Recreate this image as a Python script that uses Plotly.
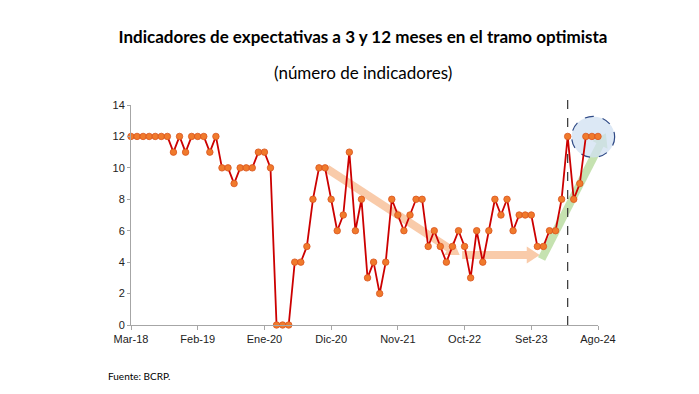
import math
import plotly.graph_objects as go

# ---- data ----
values = [12, 12, 12, 12, 12, 12, 12, 11, 12, 11, 12, 12, 12, 11, 12, 10, 10, 9, 10, 10,
          10, 11, 11, 10, 0, 0, 0, 4, 4, 5, 8, 10, 10, 8, 6, 7, 11, 6, 8, 3,
          4, 2, 4, 8, 7, 6, 7, 8, 8, 5, 6, 5, 4, 5, 6, 5, 3, 6, 4, 6,
          8, 7, 8, 6, 7, 7, 7, 5, 5, 6, 6, 8, 12, 8, 9, 12, 12, 12]
month_index = list(range(len(values)))
tick_positions = [0, 11, 22, 33, 44, 55, 66, 77]
tick_labels = ["Mar-18", "Feb-19", "Ene-20", "Dic-20", "Nov-21", "Oct-22", "Set-23", "Ago-24"]

XMAX = 77
YMAX = 14
PW, PH = 467, 220  # plot area size in px
OFF = 8            # page body margin
FW, FH = 699 - OFF, 394 - OFF

fig = go.Figure()
fig.add_trace(go.Scatter(
    x=month_index, y=values, mode="lines+markers",
    line=dict(color="#CC0000", width=1.8),
    marker=dict(size=6.5, color="#F07A2C", line=dict(color="#D9541E", width=0.8)),
    cliponaxis=False, showlegend=False, hoverinfo="skip"))


def add_arrow(tail, head, color, width=8, head_len=13, head_half=8.5):
    tx, ty = tail[0] / XMAX * PW, tail[1] / YMAX * PH
    hx, hy = head[0] / XMAX * PW, head[1] / YMAX * PH
    L = math.hypot(hx - tx, hy - ty)
    dx, dy = (hx - tx) / L, (hy - ty) / L
    nx, ny = -dy, dx
    bx, by = hx - dx * head_len, hy - dy * head_len
    fig.add_shape(type="line", xref="x domain", yref="y domain",
                  x0=tx / PW, y0=ty / PH, x1=(bx + dx * 1) / PW, y1=(by + dy * 1) / PH,
                  line=dict(color=color, width=width), layer="below")
    pts = [(hx, hy), (bx + nx * head_half, by + ny * head_half), (bx - nx * head_half, by - ny * head_half)]
    path = "M " + " L ".join(f"{p[0] / PW:.5f},{p[1] / PH:.5f}" for p in pts) + " Z"
    fig.add_shape(type="path", xref="x domain", yref="y domain", path=path,
                  fillcolor=color, line=dict(width=0), layer="below")


peach = "#F9CBAA"
green = "#C5E2B0"
add_arrow((32.3, 9.95), (54.2, 4.45), peach)
add_arrow((54.6, 4.45), (67.4, 4.45), peach)
add_arrow((67.7, 4.2), (78.3, 12.2), green)

# dashed circle
cx, cy = 76.2, 11.97
rx_px, ry_px = 21.5, 20.5
fig.add_shape(type="circle", xref="x domain", yref="y domain",
              x0=cx / XMAX - rx_px / PW, x1=cx / XMAX + rx_px / PW,
              y0=cy / YMAX - ry_px / PH, y1=cy / YMAX + ry_px / PH,
              fillcolor="rgba(208,224,242,0.75)",
              line=dict(color="#2F4A86", width=1.2, dash="dash"), layer="below")

# dashed vertical line
fig.add_shape(type="line", xref="x domain", yref="y domain",
              x0=72 / XMAX, x1=72 / XMAX, y0=0, y1=14.35 / YMAX,
              line=dict(color="#333333", width=1.2, dash="dash"), layer="below")

fig.update_layout(
    width=FW, height=FH,
    margin=dict(l=131 - OFF, r=699 - 598, t=105 - OFF, b=394 - 325),
    paper_bgcolor="white", plot_bgcolor="white",
    title=dict(text="<b>Indicadores de expectativas a 3 y 12 meses en el tramo optimista</b>",
               x=(363 - OFF) / FW, xanchor="center", y=1 - (37 - OFF) / FH, yanchor="middle",
               font=dict(family="Lato", size=17, color="black")),
    font=dict(family="Liberation Sans, Arial", size=11, color="#222222"),
)
fig.add_annotation(text="(número de indicadores)", xref="paper", yref="paper",
                   x=(363 - 131) / 467, y=(325 - 73) / 220, xanchor="center", yanchor="middle",
                   showarrow=False, font=dict(family="Lato", size=17, color="black"))
fig.add_annotation(text="Fuente: BCRP.", xref="paper", yref="paper",
                   x=(106 - 131) / 467, y=(325 - 376) / 220, xanchor="left", yanchor="middle",
                   showarrow=False, font=dict(family="Lato", size=10, color="black"))

fig.update_xaxes(range=[0, XMAX], tickvals=tick_positions, ticktext=tick_labels,
                 showline=True, linecolor="#A6A6A6", linewidth=1, ticks="outside",
                 ticklen=4, tickcolor="#A6A6A6", showgrid=False, zeroline=False)
fig.update_yaxes(range=[0, YMAX], dtick=2, tick0=0,
                 showline=True, linecolor="#A6A6A6", linewidth=1, ticks="outside",
                 ticklen=3, tickcolor="#A6A6A6", showgrid=False, zeroline=False)

fig.write_html("out.html")
